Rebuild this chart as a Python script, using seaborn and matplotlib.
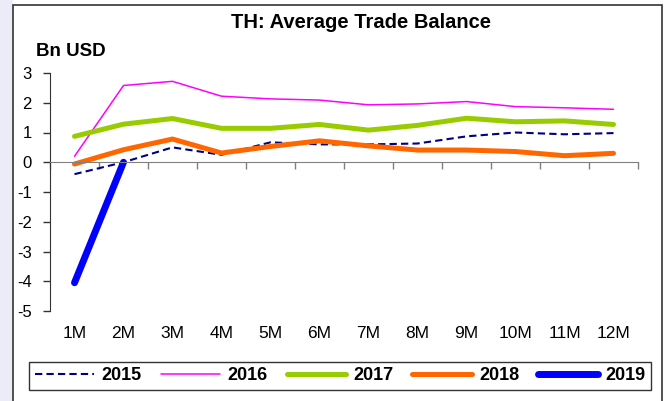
import numpy as np
import pandas as pd
import matplotlib
matplotlib.use("Agg")
import matplotlib.pyplot as plt
from matplotlib.patches import Rectangle
import seaborn as sns

# data (Bn USD, cumulative average)
months = ["1M", "2M", "3M", "4M", "5M", "6M", "7M", "8M", "9M", "10M", "11M", "12M"]
y2015 = [-0.40, 0.00, 0.50, 0.25, 0.67, 0.60, 0.60, 0.63, 0.87, 1.00, 0.94, 0.98]
y2016 = [0.20, 2.58, 2.72, 2.22, 2.13, 2.09, 1.93, 1.96, 2.04, 1.87, 1.83, 1.78]
y2017 = [0.87, 1.28, 1.47, 1.14, 1.14, 1.27, 1.08, 1.24, 1.48, 1.36, 1.39, 1.27]
y2018 = [-0.06, 0.42, 0.78, 0.31, 0.53, 0.72, 0.55, 0.41, 0.41, 0.36, 0.22, 0.30]
y2019 = [-4.05, 0.00]

sns.set_style("white")
plt.rcParams["font.family"] = ["Liberation Sans", "DejaVu Sans"]
plt.rcParams["text.color"] = "black"
plt.rcParams["xtick.color"] = "black"
plt.rcParams["ytick.color"] = "black"
plt.rcParams["axes.unicode_minus"] = False

fig = plt.figure(figsize=(6.67, 4.01), dpi=100)

# light side strip and outer frame like the slide
fig.patches.append(Rectangle((0, 0), 13 / 667, 1, transform=fig.transFigure,
                             facecolor="#ececf8", edgecolor="none", zorder=-2))
fig.patches.append(Rectangle((13 / 667, -0.05), (662 - 13) / 667, 1.05 - 5 / 401,
                             transform=fig.transFigure, facecolor="white",
                             edgecolor="#333333", linewidth=1.2, zorder=-1))

ax = fig.add_axes([50 / 667, 1 - 311 / 401, 588 / 667, 238 / 401])
ax.set_facecolor("none")

styles = [
    ("2015", y2015, "#000080", 1.5, (0, (3.5, 2))),
    ("2016", y2016, "#ff00ff", 1.1, "-"),
    ("2017", y2017, "#99cc00", 3.6, "-"),
    ("2018", y2018, "#ff6600", 3.6, "-"),
    ("2019", y2019, "#0000ff", 5.0, "-"),
]
for name, vals, col, lw, ls in styles:
    d = pd.DataFrame({"m": np.arange(len(vals)), "v": vals})
    sns.lineplot(data=d, x="m", y="v", ax=ax, color=col, linewidth=lw,
                 linestyle=ls, label=name, solid_capstyle="round",
                 dash_capstyle="butt")

ax.set_xlim(-0.5, 11.5)
ax.set_ylim(-5, 3)
ax.set_yticks(range(-5, 4))
ax.tick_params(axis="y", direction="out", length=5, width=1, pad=8,
               labelsize=12, left=True, color="#333333", labelcolor="black")
ax.spines["left"].set_color("#333333")
ax.spines["right"].set_visible(False)
ax.spines["top"].set_visible(False)
ax.spines["bottom"].set_position(("data", 0))
ax.spines["bottom"].set_color("#808080")
ax.set_xticks([])
ax.set_xticks(np.arange(-0.5, 12, 1), minor=True)
ax.tick_params(axis="x", which="minor", direction="out", length=5,
               width=1, color="#808080", bottom=True)
ax.set_xlabel("")
ax.set_ylabel("")

sec = ax.secondary_xaxis("bottom")
sec.set_xticks(range(12), labels=months)
sec.tick_params(length=0, pad=11, labelsize=12.5, labelcolor="black")
sec.spines["bottom"].set_visible(False)

fig.text(361 / 667, 1 - 23 / 401, "TH: Average Trade Balance", ha="center",
         va="center", fontsize=14.5, fontweight="bold", color="black")
fig.text(36 / 667, 1 - 51 / 401, "Bn USD", ha="left", va="center",
         fontsize=13.5, fontweight="bold", color="black")

handles, labels = ax.get_legend_handles_labels()
ax.get_legend().remove()
leg = fig.legend(handles, labels, loc="center", ncol=5,
                 bbox_to_anchor=(340 / 667, 1 - 376 / 401),
                 frameon=True, fancybox=False, edgecolor="black",
                 handlelength=3.3, handletextpad=0.4, columnspacing=1.05,
                 borderpad=0.3, borderaxespad=0,
                 prop={"weight": "bold", "size": 13})
leg.get_frame().set_linewidth(1.0)
for t in leg.get_texts():
    t.set_color("black")

fig.savefig("out.png", dpi=100)
